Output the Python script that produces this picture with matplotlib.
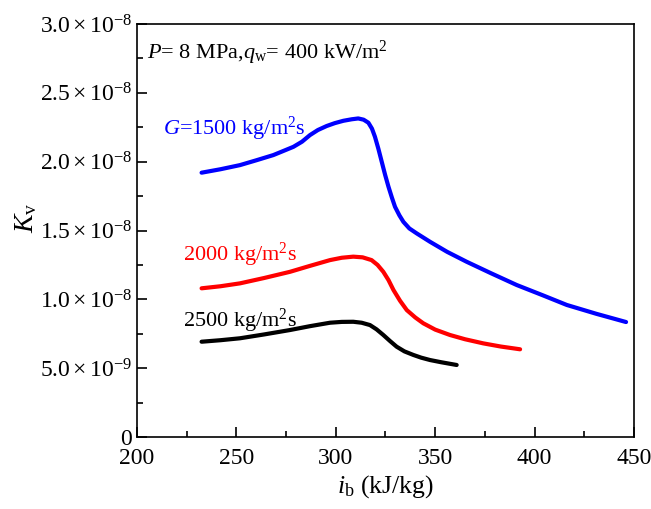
import matplotlib
matplotlib.use("Agg")
import matplotlib.pyplot as plt
from matplotlib.ticker import MultipleLocator, FixedLocator, FixedFormatter

plt.rcParams['font.family'] = ['Liberation Serif', 'DejaVu Serif']
plt.rcParams['mathtext.fontset'] = 'custom'
plt.rcParams['mathtext.rm'] = 'Liberation Serif'
plt.rcParams['mathtext.it'] = 'Liberation Serif:italic'
plt.rcParams['mathtext.bf'] = 'Liberation Serif:bold'

# Data (K_v in units of 1e-9)
ib_1500 = [232.5, 242, 251.8, 260, 268.6, 274, 278.7, 283, 287, 291, 295.4, 299.5, 303.8, 308, 311.3, 314, 316.4, 318.2, 319.7, 321.4, 323.1, 324.8, 326.5, 328.2, 329.8, 332, 334, 337, 340.7, 347.4, 356, 365.8, 378, 391, 404, 416.2, 431, 446]
kv_1500 = [19.2, 19.45, 19.75, 20.1, 20.48, 20.8, 21.08, 21.45, 21.93, 22.3, 22.59, 22.8, 22.97, 23.08, 23.14, 23.05, 22.83, 22.4, 21.81, 20.95, 20.0, 19.05, 18.18, 17.4, 16.72, 16.1, 15.63, 15.15, 14.79, 14.18, 13.45, 12.73, 11.9, 11.04, 10.3, 9.59, 8.95, 8.35]

ib_2000 = [232.5, 242, 251.8, 264, 277, 287, 297.1, 303, 308.8, 313.5, 318, 321, 323.9, 326.5, 329, 332.3, 335.7, 340, 344, 350, 357.4, 365, 374.2, 383, 392.7]
kv_2000 = [10.8, 10.95, 11.16, 11.55, 12.0, 12.43, 12.85, 13.02, 13.1, 13.05, 12.85, 12.5, 12.0, 11.4, 10.68, 9.9, 9.22, 8.68, 8.26, 7.8, 7.41, 7.1, 6.8, 6.57, 6.37]

ib_2500 = [232.5, 242, 251.8, 264, 277, 287, 297.1, 303, 308.8, 313, 317.2, 320.5, 323.9, 327.2, 330.6, 334.5, 339, 343, 347.4, 353, 360.8]
kv_2500 = [6.92, 7.03, 7.17, 7.45, 7.77, 8.05, 8.3, 8.36, 8.37, 8.3, 8.13, 7.82, 7.41, 6.98, 6.56, 6.22, 5.96, 5.76, 5.59, 5.43, 5.23]

fig = plt.figure(figsize=(6.51, 5.09), dpi=100)
ax = fig.add_axes([0.2104, 0.1415, 0.7635, 0.8113])

lw = 3.0
ax.plot(ib_1500, [v * 1e-9 for v in kv_1500], color='#0000ff', lw=lw, solid_capstyle='round', solid_joinstyle='round')
ax.plot(ib_2000, [v * 1e-9 for v in kv_2000], color='#ff0000', lw=lw, solid_capstyle='round', solid_joinstyle='round')
ax.plot(ib_2500, [v * 1e-9 for v in kv_2500], color='#000000', lw=lw, solid_capstyle='round', solid_joinstyle='round')

ax.set_xlim(200, 450)
ax.set_ylim(0, 3.0e-8)

ax.xaxis.set_major_locator(MultipleLocator(50))
ax.xaxis.set_minor_locator(MultipleLocator(25))
yt = [0, 5e-9, 1e-8, 1.5e-8, 2e-8, 2.5e-8, 3e-8]
ylabels = ['0', r'$5.0\times10^{-9}$', r'$1.0\times10^{-8}$', r'$1.5\times10^{-8}$',
           r'$2.0\times10^{-8}$', r'$2.5\times10^{-8}$', r'$3.0\times10^{-8}$']
ax.yaxis.set_major_locator(FixedLocator(yt))
ax.yaxis.set_major_formatter(FixedFormatter(ylabels))
ax.yaxis.set_minor_locator(MultipleLocator(2.5e-9))

ax.tick_params(which='both', direction='in', top=False, right=False, labelsize=17, width=1.2)
ax.tick_params(which='major', length=7)
ax.tick_params(which='minor', length=4)
ax.tick_params(axis='x', pad=8)
for s in ax.spines.values():
    s.set_linewidth(1.2)

ax.set_xlabel(r'$i_{\mathrm{b}}$ (kJ/kg)', fontsize=18.5, labelpad=3)
ax.set_ylabel(r'$K_{\mathrm{v}}$', fontsize=20)
ax.yaxis.set_label_coords(-0.197, 0.53)

ax.text(0.02, 0.965, r'$P$= 8 MPa,$q_{\mathrm{w}}$= 400 kW/m$^{2}$', transform=ax.transAxes,
        fontsize=16, ha='left', va='top')
ax.text(0.053, 0.745, r'$G$=1500 kg/m$^{2}$s', transform=ax.transAxes, fontsize=16,
        color='#0000ff', ha='left', va='center')
ax.text(0.093, 0.44, r'2000 kg/m$^{2}$s', transform=ax.transAxes, fontsize=16,
        color='#ff0000', ha='left', va='center')
ax.text(0.093, 0.28, r'2500 kg/m$^{2}$s', transform=ax.transAxes, fontsize=16,
        color='#000000', ha='left', va='center')

fig.savefig('out.png', dpi=100)
